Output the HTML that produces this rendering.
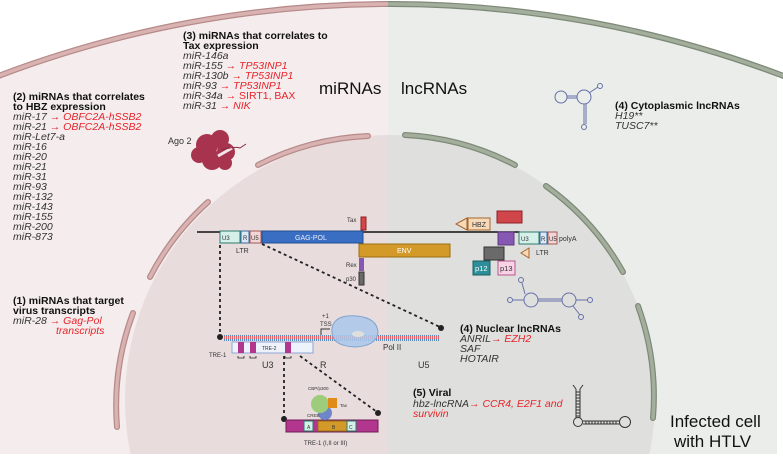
<!DOCTYPE html>
<html><head><meta charset="utf-8"><style>
html,body{margin:0;padding:0;width:783px;height:460px;overflow:hidden;background:#fff}
svg{display:block;overflow:hidden;width:783px;height:460px;font-family:"Liberation Sans",sans-serif}
.b{font-size:10.5px;fill:#111;font-weight:bold}
.i{font-size:10.5px;fill:#333;font-style:italic}
.r{fill:#e8242a}
.s{font-size:6px;fill:#333}
.m{font-size:9px;fill:#333}
</style></head><body>
<svg width="783" height="460" viewBox="0 0 783 460" xmlns="http://www.w3.org/2000/svg">
<defs>
<clipPath id="L"><rect x="0" y="0" width="388" height="460"/></clipPath>
<clipPath id="R"><rect x="388" y="0" width="395" height="460"/></clipPath>
<pattern id="dna" width="2" height="6" patternUnits="userSpaceOnUse"><rect width="1" height="3" fill="#e0646a"/><rect y="3" width="1" height="3" fill="#5f8cc0"/></pattern>
</defs>
<rect width="783" height="460" fill="#fff"/>
<circle cx="391" cy="1110" r="1106" fill="#f4eced" clip-path="url(#L)"/>
<circle cx="391" cy="1110" r="1106" fill="#ebedea" clip-path="url(#R)"/>
<rect x="777" y="0" width="6" height="460" fill="#fff"/>
<circle cx="391" cy="1110" r="1106" fill="none" stroke="#b78a8a" stroke-width="6" clip-path="url(#L)"/>
<circle cx="391" cy="1110" r="1106" fill="none" stroke="#d9b3b2" stroke-width="3.5" clip-path="url(#L)"/>
<circle cx="391" cy="1110" r="1106" fill="none" stroke="#7e8a78" stroke-width="6" clip-path="url(#R)"/>
<circle cx="391" cy="1110" r="1106" fill="none" stroke="#a4ae9c" stroke-width="3.5" clip-path="url(#R)"/>
<circle cx="390" cy="400" r="265" fill="#e9dcdc" clip-path="url(#L)"/>
<circle cx="390" cy="400" r="265" fill="#dfe0de" clip-path="url(#R)"/>
<rect x="0" y="454" width="783" height="6" fill="#fff"/>
<g fill="none" stroke-linecap="round">
<g stroke="#b78a8a" stroke-width="6">
<path d="M258,165 A265,265 0 0 1 368,136"/>
<path d="M150,277 A265,265 0 0 1 208,202"/>
<path d="M133,313 A265,265 0 0 0 117,427"/>
</g>
<g stroke="#d9b3b2" stroke-width="3.5">
<path d="M258,165 A265,265 0 0 1 368,136"/>
<path d="M150,277 A265,265 0 0 1 208,202"/>
<path d="M133,313 A265,265 0 0 0 117,427"/>
</g>
<g stroke="#7e8a78" stroke-width="6">
<path d="M405,135 A265,265 0 0 1 515,165"/>
<path d="M546,186 A265,265 0 0 1 623,272"/>
<path d="M638,306 A265,265 0 0 1 653,418"/>
</g>
<g stroke="#a4ae9c" stroke-width="3.5">
<path d="M405,135 A265,265 0 0 1 515,165"/>
<path d="M546,186 A265,265 0 0 1 623,272"/>
<path d="M638,306 A265,265 0 0 1 653,418"/>
</g>
</g>
<text x="319" y="94" font-size="17" fill="#111">miRNAs</text>
<text x="401" y="94" font-size="17" fill="#111">lncRNAs</text>
<text x="670" y="427" font-size="17" fill="#111">Infected cell</text>
<text x="674" y="447" font-size="17" fill="#111">with HTLV</text>
<text class="b" x="183" y="39">(3) miRNAs that correlates to</text>
<text class="b" x="183" y="49">Tax expression</text>
<text class="i" x="183" y="59">miR-146a</text>
<text class="i" x="183" y="69">miR-155 <tspan class="r">→ TP53INP1</tspan></text>
<text class="i" x="183" y="79">miR-130b <tspan class="r">→ TP53INP1</tspan></text>
<text class="i" x="183" y="89">miR-93 <tspan class="r">→ TP53INP1</tspan></text>
<text class="i" x="183" y="99">miR-34a <tspan class="r" font-style="normal">→ SIRT1, BAX</tspan></text>
<text class="i" x="183" y="109">miR-31 <tspan class="r">→ NIK</tspan></text>
<text class="b" x="13" y="100">(2) miRNAs that correlates</text>
<text class="b" x="13" y="110">to HBZ expression</text>
<text class="i" x="13" y="120">miR-17 <tspan class="r">→ OBFC2A-hSSB2</tspan></text>
<text class="i" x="13" y="130">miR-21 <tspan class="r">→ OBFC2A-hSSB2</tspan></text>
<text class="i" x="13" y="140">miR-Let7-a</text>
<text class="i" x="13" y="150">miR-16</text>
<text class="i" x="13" y="160">miR-20</text>
<text class="i" x="13" y="170">miR-21</text>
<text class="i" x="13" y="180">miR-31</text>
<text class="i" x="13" y="190">miR-93</text>
<text class="i" x="13" y="200">miR-132</text>
<text class="i" x="13" y="210">miR-143</text>
<text class="i" x="13" y="220">miR-155</text>
<text class="i" x="13" y="230">miR-200</text>
<text class="i" x="13" y="240">miR-873</text>
<text class="b" x="13" y="304">(1) miRNAs that target</text>
<text class="b" x="13" y="314">virus transcripts</text>
<text class="i" x="13" y="324">miR-28 <tspan class="r">→ Gag-Pol</tspan></text>
<text class="i r" x="56" y="334">transcripts</text>
<text class="m" x="168" y="144">Ago 2</text>
<g fill="#a8334f">
<circle cx="207" cy="145" r="11"/><circle cx="220" cy="139" r="9"/><circle cx="226" cy="152" r="9"/>
<circle cx="212" cy="160" r="10"/><circle cx="199" cy="155" r="8"/><circle cx="225" cy="163" r="7"/>
</g>
<path d="M218,156 L232,148" stroke="#f3e6e8" stroke-width="3"/>
<path d="M222,150 Q235,146 240,148 L246,144" stroke="#8a2a3e" stroke-width="1" fill="none"/>
<g stroke="#6570a8" fill="none" stroke-width="1">
<circle cx="561" cy="97" r="6"/><circle cx="584" cy="97" r="7"/><circle cx="600" cy="86" r="2.5"/><circle cx="584" cy="127" r="2.5"/>
<path d="M567,96 H577 M567,98 H577 M589,93 L598,87 M584,104 V124 M586,104 V124"/>
</g>
<text class="b" x="615" y="109">(4) Cytoplasmic lncRNAs</text>
<text class="i" x="615" y="119">H19**</text>
<text class="i" x="615" y="129">TUSC7**</text>
<path d="M197,232 H520" stroke="#111" stroke-width="1.5"/>
<g stroke-width="1">
<rect x="220" y="231" width="20" height="12" fill="#d5efe9" stroke="#2d7a6c"/>
<rect x="241" y="231" width="8" height="12" fill="#dde8f5" stroke="#3c6aa0"/>
<rect x="250" y="231" width="11" height="12" fill="#f0d6d6" stroke="#a45858"/>
<rect x="262" y="231" width="101" height="12" fill="#3a6ec2" stroke="#234f93"/>
<rect x="361" y="217" width="5" height="13" fill="#d0464a" stroke="#8d2226"/>
<rect x="359" y="244" width="91" height="13" fill="#d39a2a" stroke="#9b6d12"/>
<rect x="359" y="258" width="5" height="13" fill="#8758b3"/>
<rect x="359" y="272" width="5" height="13" fill="#6a6a6a" stroke="#333"/>
<rect x="468" y="218" width="22" height="12" fill="#f5d9b8" stroke="#a8652a"/>
<path d="M467,218 L456,224 L467,230 Z" fill="#f5d9b8" stroke="#a8652a"/>
<rect x="497" y="211" width="25" height="12" fill="#d0464a" stroke="#8d2226"/>
<rect x="498" y="232" width="16" height="13" fill="#8758b3" stroke="#5d3a80"/>
<rect x="519" y="232" width="20" height="12" fill="#d5efe9" stroke="#2d7a6c"/>
<rect x="540" y="232" width="7" height="12" fill="#dde8f5" stroke="#3c6aa0"/>
<rect x="548" y="232" width="9" height="12" fill="#f0d6d6" stroke="#a45858"/>
<rect x="484" y="247" width="20" height="13" fill="#6a6a6a" stroke="#333"/>
<path d="M529,248 L521,253 L529,258 Z" fill="#f5d9b8" stroke="#a8652a"/>
<rect x="473" y="261" width="17" height="14" fill="#2f8f98" stroke="#1d5e64"/>
<rect x="498" y="261" width="17" height="14" fill="#f7d3e5" stroke="#b8568e"/>
</g>
<g class="s">
<text x="222" y="240">U3</text><text x="243" y="240">R</text><text x="251" y="240">U5</text>
<text x="521" y="241">U3</text><text x="541" y="241">R</text><text x="549" y="241">U5</text>
<text x="559" y="241" font-size="7">polyA</text>
<text x="347" y="222">Tax</text><text x="346" y="267">Rex</text><text x="346" y="281">p30</text>
</g>
<text x="295" y="240" font-size="7" fill="#e8eefa">GAG-POL</text>
<text x="397" y="253" font-size="7" fill="#fff">ENV</text>
<text x="472" y="227" font-size="7" fill="#333">HBZ</text>
<text x="475" y="271" font-size="7.5" fill="#fff">p12</text>
<text x="500" y="271" font-size="7.5" fill="#333">p13</text>
<text x="236" y="253" font-size="7" fill="#333">LTR</text>
<text x="536" y="255" font-size="7" fill="#333">LTR</text>
<g stroke="#6570a8" fill="none" stroke-width="1">
<circle cx="531" cy="300" r="7"/><circle cx="569" cy="300" r="7"/>
<circle cx="521" cy="280" r="2.5"/><circle cx="510" cy="300" r="2.5"/><circle cx="590" cy="300" r="2.5"/><circle cx="581" cy="317" r="2.5"/>
<path d="M538,299 H562 M538,301 H562 M525,294 L522,283 M524,300 H513 M576,300 H587 M573,306 L580,315"/>
</g>
<g stroke="#222" stroke-width="1.8" stroke-dasharray="3,3" fill="none">
<path d="M220,245 V335"/>
<path d="M262,244 L440,327"/>
<path d="M284,356 V418"/>
<path d="M300,356 L377,412"/>
</g>
<circle cx="220" cy="337" r="3" fill="#222"/>
<circle cx="441" cy="328" r="3" fill="#222"/>
<circle cx="284" cy="419" r="3" fill="#222"/>
<circle cx="378" cy="413" r="3" fill="#222"/>
<rect x="224" y="335" width="216" height="6" fill="url(#dna)"/>
<rect x="232" y="342" width="81" height="11" fill="#eef2fb" stroke="#8ea6d6"/>
<rect x="238" y="342" width="6" height="11" fill="#b2368e"/><rect x="250" y="342" width="6" height="11" fill="#b2368e"/><rect x="285" y="342" width="6" height="11" fill="#b2368e"/>
<text x="262" y="350" font-size="5" fill="#333">TRE-2</text>
<path d="M238,356 v2 h6 v-2 M250,356 v2 h6 v-2 M285,356 v2 h6 v-2" stroke="#222" fill="none" stroke-width="0.8"/>
<text x="209" y="357" class="s">TRE-1</text>
<path d="M321,335 v-6 h9" stroke="#333" fill="none"/>
<text x="322" y="318" class="s">+1</text><text x="320" y="326" class="s">TSS</text>
<path d="M332,328 Q335,314 357,316 Q377,318 378,332 Q377,346 355,347 Q333,346 332,333 Z" fill="#a9c8ea" fill-opacity="0.85" stroke="#7ea2cf"/>
<ellipse cx="358" cy="334" rx="6" ry="3" fill="#dfe0de"/>
<text x="383" y="350" font-size="8" fill="#333">Pol II</text>
<text x="262" y="368" font-size="9" fill="#333">U3</text>
<text x="320" y="368" font-size="9" fill="#333">R</text>
<text x="418" y="368" font-size="9" fill="#333">U5</text>
<rect x="286" y="420" width="92" height="12" fill="#b2368e" stroke="#6e1d56"/>
<rect x="304" y="421" width="9" height="10" fill="#d5efe9" stroke="#2d7a6c"/>
<rect x="318" y="421" width="32" height="10" fill="#d39a2a" stroke="#9b6d12"/>
<rect x="347" y="421" width="9" height="10" fill="#d5efe9" stroke="#2d7a6c"/>
<text x="307" y="429" font-size="5" fill="#333">A</text><text x="332" y="429" font-size="5" fill="#333">B</text><text x="349" y="429" font-size="5" fill="#333">C</text>
<circle cx="325" cy="413" r="7" fill="#6f87c9"/>
<circle cx="320" cy="404" r="9" fill="#9dcc7a"/>
<rect x="328" y="398" width="9" height="10" fill="#e08a1a"/>
<text x="307" y="417" font-size="4.5" fill="#333">CREB</text>
<text x="308" y="390" font-size="4.5" fill="#333">CBP/p300</text>
<text x="340" y="407" font-size="4.5" fill="#333">Tax</text>
<text x="304" y="445" font-size="6" fill="#333">TRE-1 (I,II or III)</text>
<text class="b" x="460" y="332">(4) Nuclear lncRNAs</text>
<text class="i" x="460" y="342">ANRIL<tspan class="r">→ EZH2</tspan></text>
<text class="i" x="460" y="352">SAF</text>
<text class="i" x="460" y="362">HOTAIR</text>
<text class="b" x="413" y="396">(5) Viral</text>
<text class="i" x="413" y="407">hbz-lncRNA<tspan class="r">→ CCR4, E2F1 and</tspan></text>
<text class="i r" x="413" y="417">survivin</text>
<g stroke="#333" fill="none" stroke-width="1">
<path d="M573,385 L576,389 M583,385 L580,389"/>
<path d="M576,389 V418 M580,389 V418"/>
<path d="M576,392 h4 M576,395 h4 M576,398 h4 M576,401 h4 M576,404 h4 M576,407 h4 M576,410 h4 M576,413 h4 M576,416 h4"/>
<circle cx="578" cy="422" r="4.5"/>
<path d="M583,421 H620 M583,424 H620"/>
<circle cx="625" cy="422" r="5.5"/>
<path d="M586,421 v3 M589,421 v3 M592,421 v3 M595,421 v3 M598,421 v3 M601,421 v3 M604,421 v3 M607,421 v3 M610,421 v3 M613,421 v3 M616,421 v3"/>
</g>
</svg>
</body></html>
